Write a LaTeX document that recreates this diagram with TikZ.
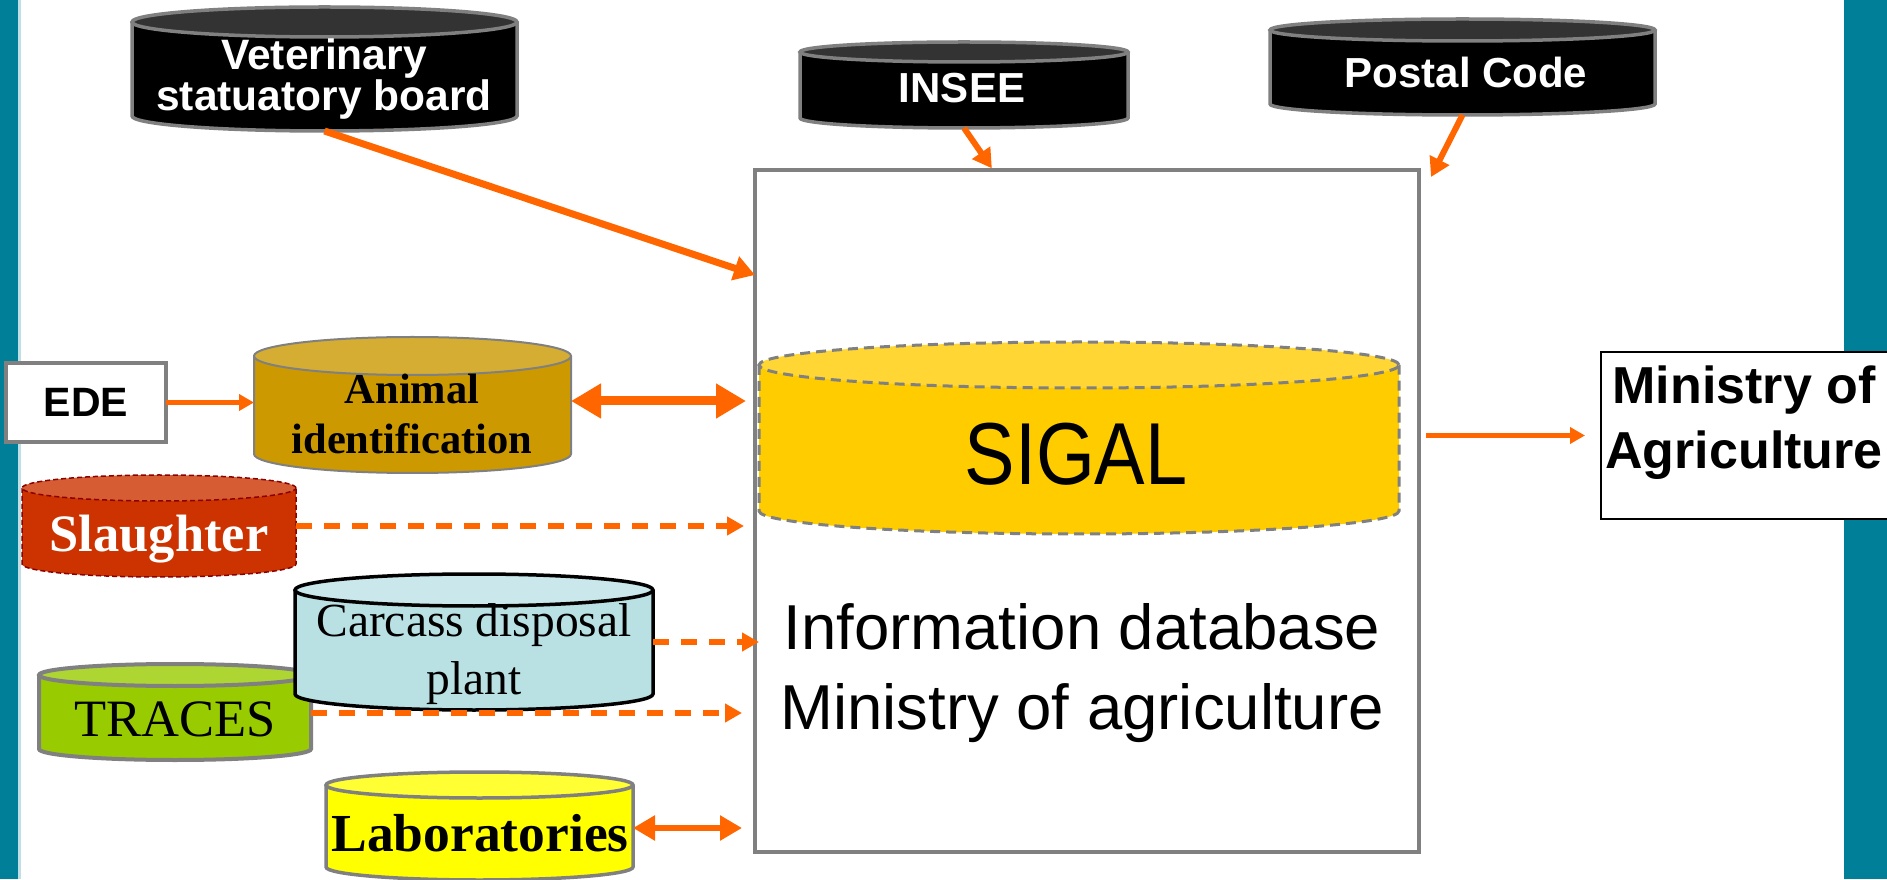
\documentclass[tikz,border=0pt]{standalone}
\usepackage{fontspec}
\setmainfont{Liberation Serif}
\newfontfamily\sansf{Liberation Sans}
\usetikzlibrary{arrows.meta}
\definecolor{corange}{HTML}{FF6600}
\definecolor{cteal}{HTML}{007F99}
\definecolor{cgray}{HTML}{808080}
\definecolor{cvettop}{HTML}{333333}
\definecolor{canimal}{HTML}{CC9900}
\definecolor{canimaltop}{HTML}{D5AD33}
\definecolor{cslaughter}{HTML}{CC3300}
\definecolor{cslaughtertop}{HTML}{D65C33}
\definecolor{cslborder}{HTML}{8B0000}
\definecolor{ctraces}{HTML}{99CC00}
\definecolor{ctracestop}{HTML}{ADD633}
\definecolor{ccarcass}{HTML}{B9E0E3}
\definecolor{ccarcasstop}{HTML}{CAE8EB}
\definecolor{clab}{HTML}{FFFF00}
\definecolor{clabtop}{HTML}{FFFF33}
\definecolor{csigal}{HTML}{FFCC00}
\definecolor{csigaltop}{HTML}{FFD633}
\newcommand\fsz[2]{\fontsize{#1pt}{#2pt}\selectfont}
% #1 name, #2 x1, #3 x2, #4 ytop, #5 ybot (pixels, y downwards), #6 ry, #7 body, #8 top, #9 border style
\newcommand\dbcyl[9]{%
  \pgfmathsetmacro\cxA{(#2+#3)/2}%
  \pgfmathsetmacro\rxA{(#3-#2)/2}%
  \pgfmathsetmacro\ytA{879-#4-#6}%
  \pgfmathsetmacro\ybA{879-#5+#6}%
  \pgfmathsetmacro\hA{#5-#4}%
  \pgfmathsetmacro\cyA{879-(#4+#5)/2}%
  \fill[#7] (#2,\ytA) -- (#2,\ybA) arc[start angle=180,end angle=360,x radius=\rxA,y radius=#6] -- (#3,\ytA) -- cycle;
  \draw[#9] (#2,\ytA) -- (#2,\ybA) arc[start angle=180,end angle=360,x radius=\rxA,y radius=#6] -- (#3,\ytA);
  \filldraw[fill=#8,#9] (\cxA,\ytA) ellipse[x radius=\rxA,y radius=#6];
  \node[inner sep=0pt,outer sep=0pt,minimum width={2*\rxA},minimum height={\hA}] (#1) at (\cxA,\cyA) {};
}
\tikzset{
  cylgray/.style={draw=cgray,line width=3.5pt},
  cylgraythin/.style={draw=cgray,line width=2pt},
  cylgraythick/.style={draw=cgray,line width=4pt},
  sigalborder/.style={draw=cgray,line width=3pt,dash pattern=on 10pt off 6pt},
  slborder/.style={draw=cslborder,line width=1.5pt,dash pattern=on 5pt off 3pt},
  carcborder/.style={draw=black,line width=3.5pt},
  arrthick/.style={draw=corange,line width=7pt,-{Triangle[length=21pt,width=24pt]}},
  arrmid/.style={draw=corange,line width=6pt,-{Triangle[length=19pt,width=21pt]}},
  arrthin/.style={draw=corange,line width=4.5pt,-{Triangle[length=15pt,width=16pt]}},
  arrdash/.style={draw=corange,line width=6pt,dash pattern=on 16pt off 12pt,-{Triangle[length=17pt,width=18pt]}},
  arrboth/.style={draw=corange,line width=9pt,{Triangle[length=30pt,width=33pt]}-{Triangle[length=30pt,width=33pt]}},
  arrbothsm/.style={draw=corange,line width=6.5pt,{Triangle[length=22pt,width=24pt]}-{Triangle[length=22pt,width=24pt]}},
  lbl/.style={inner sep=0pt,align=center},
}
\begin{document}
\begin{tikzpicture}[x=1pt,y=1pt]
\useasboundingbox (0,0) rectangle (1887,879);
% side bars
\fill[cteal] (0,0) rectangle (18,879);
\fill[cteal!25] (18,0) rectangle (20.5,879);
\fill[cteal] (1844,0) rectangle (1887,879);

% main box
\node[draw=cgray,line width=4pt,minimum width=664,minimum height=682,inner sep=0pt,outer sep=0pt] (main) at (1087,368) {};

% cylinders
\dbcyl{sigal}{759}{1399}{342}{534}{23}{csigal}{csigaltop}{sigalborder}
\dbcyl{vet}{132}{517}{7}{131}{15}{black}{cvettop}{cylgray}
\dbcyl{insee}{800}{1128}{42}{128}{10}{black}{cvettop}{cylgray}
\dbcyl{postal}{1270}{1655}{19}{115}{11}{black}{cvettop}{cylgray}
\dbcyl{animal}{254}{571}{337}{473}{19}{canimal}{canimaltop}{cylgraythin}
\dbcyl{slaughter}{22}{296}{475}{577}{13}{cslaughter}{cslaughtertop}{slborder}
\dbcyl{traces}{39}{311}{664}{760}{11}{ctraces}{ctracestop}{cylgraythick}
\dbcyl{carcass}{295}{653}{574}{710}{16}{ccarcass}{ccarcasstop}{carcborder}
\dbcyl{lab}{326}{633}{772}{880}{13}{clab}{clabtop}{cylgray}

% rectangles
\node[draw=cgray,line width=4pt,fill=white,minimum width=160,minimum height=79,inner sep=0pt,outer sep=0pt] (ede) at (86,476.5) {};
\node[draw=black,line width=2pt,fill=white,minimum width=300,minimum height=167,inner sep=0pt,outer sep=0pt] (minis) at (1751,443.5) {};

% labels
\node[lbl,text=white,font=\sansf\bfseries\fsz{42.5}{39}] (vetl) at (324,800) {Veterinary\\statuatory board};
\node[lbl,text=white,font=\sansf\bfseries\fsz{42}{46}] (inseel) at (962,791) {INSEE};
\node[lbl,text=white,font=\sansf\bfseries\fsz{42}{46}] (postall) at (1466,807) {Postal Code};
\node[lbl,font=\sansf\bfseries\fsz{41}{46}] (edel) at (86,477) {EDE};
\node[lbl,font=\bfseries\fsz{42.5}{50}] (animall) at (412,465) {Animal\\identification};
\node[lbl,text=white,font=\bfseries\fsz{52.5}{56}] (slaughterl) at (159,340) {Slaughter};
\node[lbl,font=\fsz{47.5}{58}] (carcassl) at (474,225) {Carcass disposal\\plant};
\node[lbl,font=\fsz{52.5}{56}] (tracesl) at (175,160) {TRACES};
\node[lbl,font=\bfseries\fsz{53.5}{56}] (labl) at (480,46) {Laboratories};
\node[lbl,font=\sansf\fsz{88}{90}] (sigall) at (1076,425) {\scalebox{0.86}[1]{SIGAL}};
\node[lbl,font=\sansf\fsz{63.5}{80}] (infol) at (1082,206) {Information database\\Ministry of agriculture};
\node[lbl,font=\sansf\bfseries\fsz{52}{65}] (minisl) at (1744,456) {Ministry of\\Agriculture};

% connectors
\draw[arrthick] (vet.south) -- (main.west |- 0,604);
\draw[arrmid,shorten >=2pt] (insee.south) -- (main.north -| 993,0);
\coordinate (postend) at ([shift={(12,-7)}]main.north east);
\draw[arrmid] (postal.south) -- (postend);
\draw[arrthin] (ede.east) -- (animal.west |- ede.east);
\coordinate (anim1) at ([yshift=4pt]animal.east);
\draw[arrboth,shorten >=9pt] (anim1) -- (anim1 -| main.west);
\draw[arrdash,shorten >=11pt] (slaughter.east) -- (slaughter.east -| main.west);
\draw[arrdash,shorten >=-4pt] (carcass.east) -- (carcass.east -| main.west);
\coordinate (trac1) at ([yshift=-1pt]traces.east);
\draw[arrdash,shorten >=13pt] (trac1) -- (trac1 -| main.west);
\coordinate (lab1) at ([yshift=-2pt]lab.east);
\draw[arrbothsm,shorten >=13pt] (lab1) -- (lab1 -| main.west);
\draw[arrthin,shorten <=7pt,shorten >=16pt] (main.east |- minis.west) -- (minis.west);
\end{tikzpicture}
\end{document}
